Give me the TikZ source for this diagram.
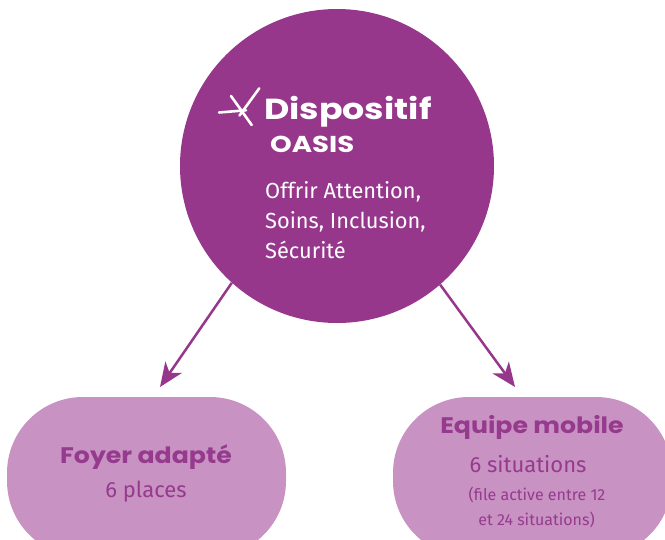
\documentclass[tikz,border=0pt]{standalone}
\usepackage{fontspec}
\setmainfont{Fira Sans}
\newfontfamily\headfont{Poppins}[FakeStretch=1.12]
\newfontfamily\titlefont{Poppins}[FakeStretch=1.2]
\usetikzlibrary{arrows.meta}
\definecolor{darkplum}{RGB}{150,55,140}
\definecolor{lightplum}{RGB}{200,146,195}
\definecolor{plumtext}{RGB}{150,58,142}
\tikzset{
  bigcircle/.style={circle, fill=darkplum, minimum size=314pt, inner sep=0pt},
  pill/.style={rectangle, rounded corners=76pt, fill=lightplum, minimum width=279pt, minimum height=160pt, inner sep=0pt},
  circtext/.style={anchor=base west, inner sep=0pt, text=white, font=\fontsize{21.8}{26}\selectfont},
  headtext/.style={anchor=base, inner sep=0pt, text=plumtext, font=\headfont\bfseries\fontsize{22.5}{26}\selectfont},
  subtext/.style={anchor=base, inner sep=0pt, text=plumtext, font=\fontsize{22}{26}\selectfont},
  smalltext/.style={anchor=base, inner sep=0pt, text=plumtext, font=\fontsize{16}{20}\selectfont},
  flow/.style={draw=darkplum, line width=2.5pt, -{Stealth[length=24pt, width=20pt, inset=7pt]}},
  logo/.style={draw=white, line width=2.6pt, line cap=round}
}
\begin{document}
\begin{tikzpicture}[x=1pt, y=-1pt]
\useasboundingbox (0,0) rectangle (665,539);
\node[bigcircle] (oasis) at (337,166) {};
\node[pill] (foyer) at (146.5,477) {};
\node[pill] (equipe) at (532.5,477) {};
% logo
\draw[logo] (219,112.5) -- (246,110.3);
\draw[logo] (259.3,88.3) -- (239.5,115.5);
\draw[logo] (231,96) -- (251.7,125);
% circle texts
\node[anchor=base west, inner sep=0pt, text=white, font=\titlefont\bfseries\fontsize{29}{33}\selectfont] (title) at (264,119) {Dispositif};
\node[anchor=base west, inner sep=0pt, text=white, font=\titlefont\bfseries\fontsize{23}{27}\selectfont] (oasisname) at (270,152) {OASIS};
\node[circtext] (l1) at (265,198) {Offrir Attention,};
\node[circtext] (l2) at (265,228) {Soins, Inclusion,};
\node[circtext] (l3) at (265,258) {Sécurité};
% bottom texts
\node[headtext] (foyertitle) at (146,463) {Foyer adapté};
\node[subtext] (foyersub) at (146,497) {6 places};
\node[headtext] (equipetitle) at (532,433) {Equipe mobile};
\node[subtext] (equipesub) at (528,472) {6 situations};
\node[smalltext] (equipe1) at (537,500) {(file active entre 12};
\node[smalltext] (equipe2) at (536.5,525) {et 24 situations)};
% arrows
\coordinate (tipL) at (160,387);
\coordinate (tipR) at (515,387);
\draw[flow] (oasis.228) -- (tipL);
\draw[flow] (oasis.311) -- (tipR);
\end{tikzpicture}
\end{document}
